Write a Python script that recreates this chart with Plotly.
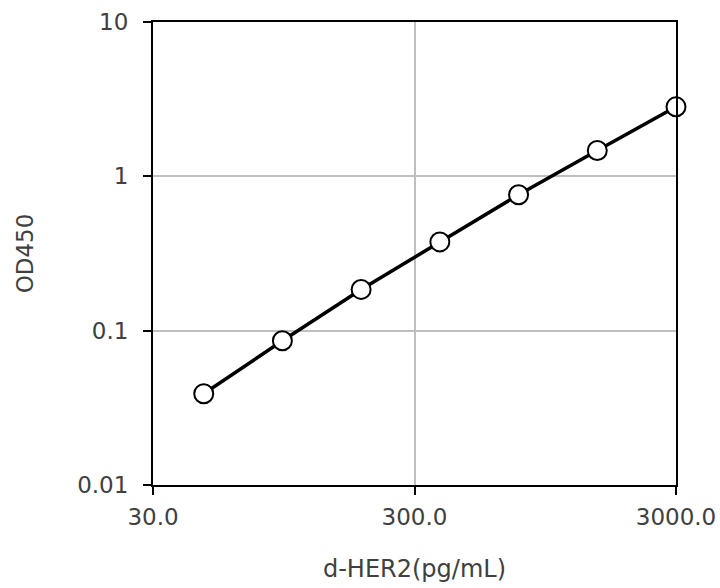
import math
import plotly.graph_objects as go

# d-HER2 standard curve
conc = [46.9, 93.75, 187.5, 375, 750, 1500, 3000]
od450 = [0.039, 0.086, 0.185, 0.376, 0.76, 1.47, 2.82]

x_ticks = [30, 300, 3000]
x_ticktext = ["30.0", "300.0", "3000.0"]
y_ticks = [0.01, 0.1, 1, 10]
y_ticktext = ["0.01", "0.1", "1", "10"]

fnt = "DejaVu Sans"
txt_col = "#404040"

fig = go.Figure(go.Scatter(
    x=conc, y=od450,
    mode="lines+markers",
    line=dict(color="black", width=3.5),
    marker=dict(size=19, color="white", line=dict(color="black", width=2)),
    showlegend=False,
    cliponaxis=False,
))

fig.update_layout(
    width=720, height=588,
    margin=dict(l=153, r=44, t=22, b=103),
    paper_bgcolor="white",
    plot_bgcolor="white",
    font=dict(family=fnt, size=23, color=txt_col),
)

fig.update_xaxes(
    type="log", range=[math.log10(30) - 1e-6, math.log10(3000) + 1e-6],
    tickvals=x_ticks, ticktext=x_ticktext,
    tickfont=dict(size=23),
    automargin=False,
    ticklabelstandoff=2,
    showline=True, linecolor="black", linewidth=2, mirror=True,
    ticks="outside", ticklen=8, tickwidth=2, tickcolor="black",
    showgrid=True, gridcolor="#bfbfbf", gridwidth=1.5,
    zeroline=False,
    title=dict(text="d-HER2(pg/mL)", font=dict(size=24), standoff=32),
)
fig.update_yaxes(
    type="log", range=[-2, 1],
    tickvals=y_ticks, ticktext=y_ticktext,
    tickfont=dict(size=23),
    automargin=False,
    ticklabelstandoff=10,
    showline=True, linecolor="black", linewidth=2, mirror=True,
    ticks="outside", ticklen=8, tickwidth=2, tickcolor="black",
    showgrid=True, gridcolor="#bfbfbf", gridwidth=1.5,
    zeroline=False,
    title=dict(text="OD450", font=dict(size=23), standoff=37),
)

# drop the default body margin so the 720x588 figure fills the window exactly
fig.write_html(
    "out.html",
    config={"displayModeBar": False},
    post_script="document.body.style.margin='0';document.body.style.overflow='hidden';",
)
